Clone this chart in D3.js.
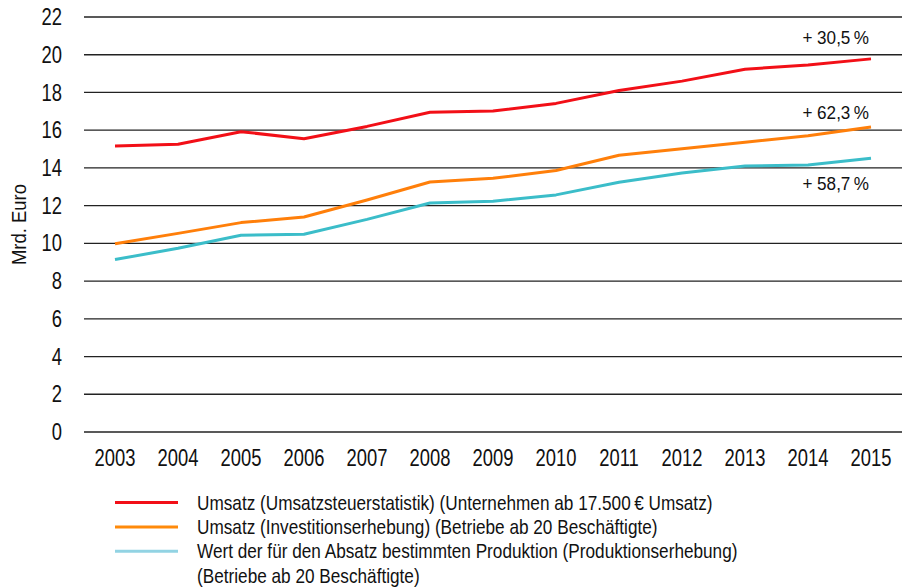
<!DOCTYPE html>
<html>
<head>
<meta charset="utf-8">
<script src="https://cdn.jsdelivr.net/npm/d3@7"></script>
<style>
  body { margin: 0; background: #fff; }
  svg { display: block; font-family: "Liberation Sans", Arial, sans-serif; }
</style>
</head>
<body>
<div class="chart"></div>
<script>
const years = [2003, 2004, 2005, 2006, 2007, 2008, 2009, 2010, 2011, 2012, 2013, 2014, 2015]
const umsatzSteuer = [15.16, 15.25, 15.92, 15.55, 16.2, 16.95, 17.02, 17.42, 18.1, 18.6, 19.23, 19.46, 19.78]
const umsatzInvest = [9.98, 10.53, 11.1, 11.4, 12.3, 13.25, 13.45, 13.86, 14.67, 15.02, 15.36, 15.7, 16.17]
const produktion = [9.14, 9.74, 10.43, 10.48, 11.27, 12.14, 12.23, 12.57, 13.24, 13.73, 14.1, 14.16, 14.51]
const yTicks = [0, 2, 4, 6, 8, 10, 12, 14, 16, 18, 20, 22]
const growthLabels = ['+ 30,5\u2009%', '+ 62,3\u2009%', '+ 58,7\u2009%']
const legendLabels = [
  ['Umsatz (Umsatzsteuerstatistik) (Unternehmen ab 17.500\u2009€ Umsatz)'],
  ['Umsatz (Investitionserhebung) (Betriebe ab 20 Beschäftigte)'],
  ['Wert der für den Absatz bestimmten Produktion (Produktionserhebung)', '(Betriebe ab 20 Beschäftigte)']
]

const series = [
  {values: umsatzSteuer, color: '#f20f17', legendColor: '#f20f17', label: growthLabels[0], labelY: 20.9},
  {values: umsatzInvest, color: '#ff7f0a', legendColor: '#ff8a0a', label: growthLabels[1], labelY: 16.95},
  {values: produktion, color: '#3bbdc9', legendColor: '#92d3e3', label: growthLabels[2], labelY: 13.2}
]

const w = 902
const h = 587

const svg = d3.select('.chart')
  .append('svg')
  .attr('width', w)
  .attr('height', h)

const x = d3.scaleLinear().domain([2003, 2015]).range([115, 871])
const y = d3.scaleLinear().domain([0, 22]).range([432, 17])

// condensed look: regular font squeezed horizontally
function label(g, tx, ty, size, sx, anchor, txt) {
  return g.append('text')
    .attr('transform', 'translate(' + tx + ',' + ty + ') scale(' + sx + ',1)')
    .attr('dy', '0.35em')
    .attr('text-anchor', anchor)
    .attr('font-size', size)
    .attr('fill', '#111')
    .text(txt)
}

// gridlines
svg.append('g')
  .selectAll('line')
  .data(yTicks)
  .enter()
  .append('line')
  .attr('x1', 84)
  .attr('x2', w)
  .attr('y1', d => y(d))
  .attr('y2', d => y(d))
  .attr('stroke', '#222')
  .attr('stroke-width', 1.3)

const yLab = svg.append('g')
yTicks.forEach(d => label(yLab, 62, y(d), 23, 0.8, 'end', d))

svg.append('text')
  .attr('transform', 'translate(26,' + y(11) + ') rotate(-90) scale(0.88,1)')
  .attr('text-anchor', 'middle')
  .attr('font-size', 21)
  .attr('fill', '#111')
  .text('Mrd. Euro')

const xLab = svg.append('g')
years.forEach(d => label(xLab, x(d), 458, 23, 0.8, 'middle', d))

const line = d3.line()
  .x((d, i) => x(years[i]))
  .y(d => y(d))

svg.selectAll('path.series')
  .data(series)
  .enter()
  .append('path')
  .attr('class', 'series')
  .attr('d', d => line(d.values))
  .attr('fill', 'none')
  .attr('stroke', d => d.color)
  .attr('stroke-width', 3)
  .attr('stroke-linejoin', 'round')

const growth = svg.append('g')
series.forEach(s => label(growth, 869, y(s.labelY), 19, 0.9, 'end', s.label))

// legend
const legend = svg.append('g')
let row = 0
series.forEach((s, i) => {
  const ly = 502.5 + row * 24.4
  legend.append('line')
    .attr('x1', 115).attr('x2', 178)
    .attr('y1', ly).attr('y2', ly)
    .attr('stroke', s.legendColor)
    .attr('stroke-width', 3)
  legendLabels[i].forEach(t => {
    label(legend, 197, 502.5 + row * 24.4, 20, 0.86, 'start', t)
    row++
  })
})
</script>
</body>
</html>
